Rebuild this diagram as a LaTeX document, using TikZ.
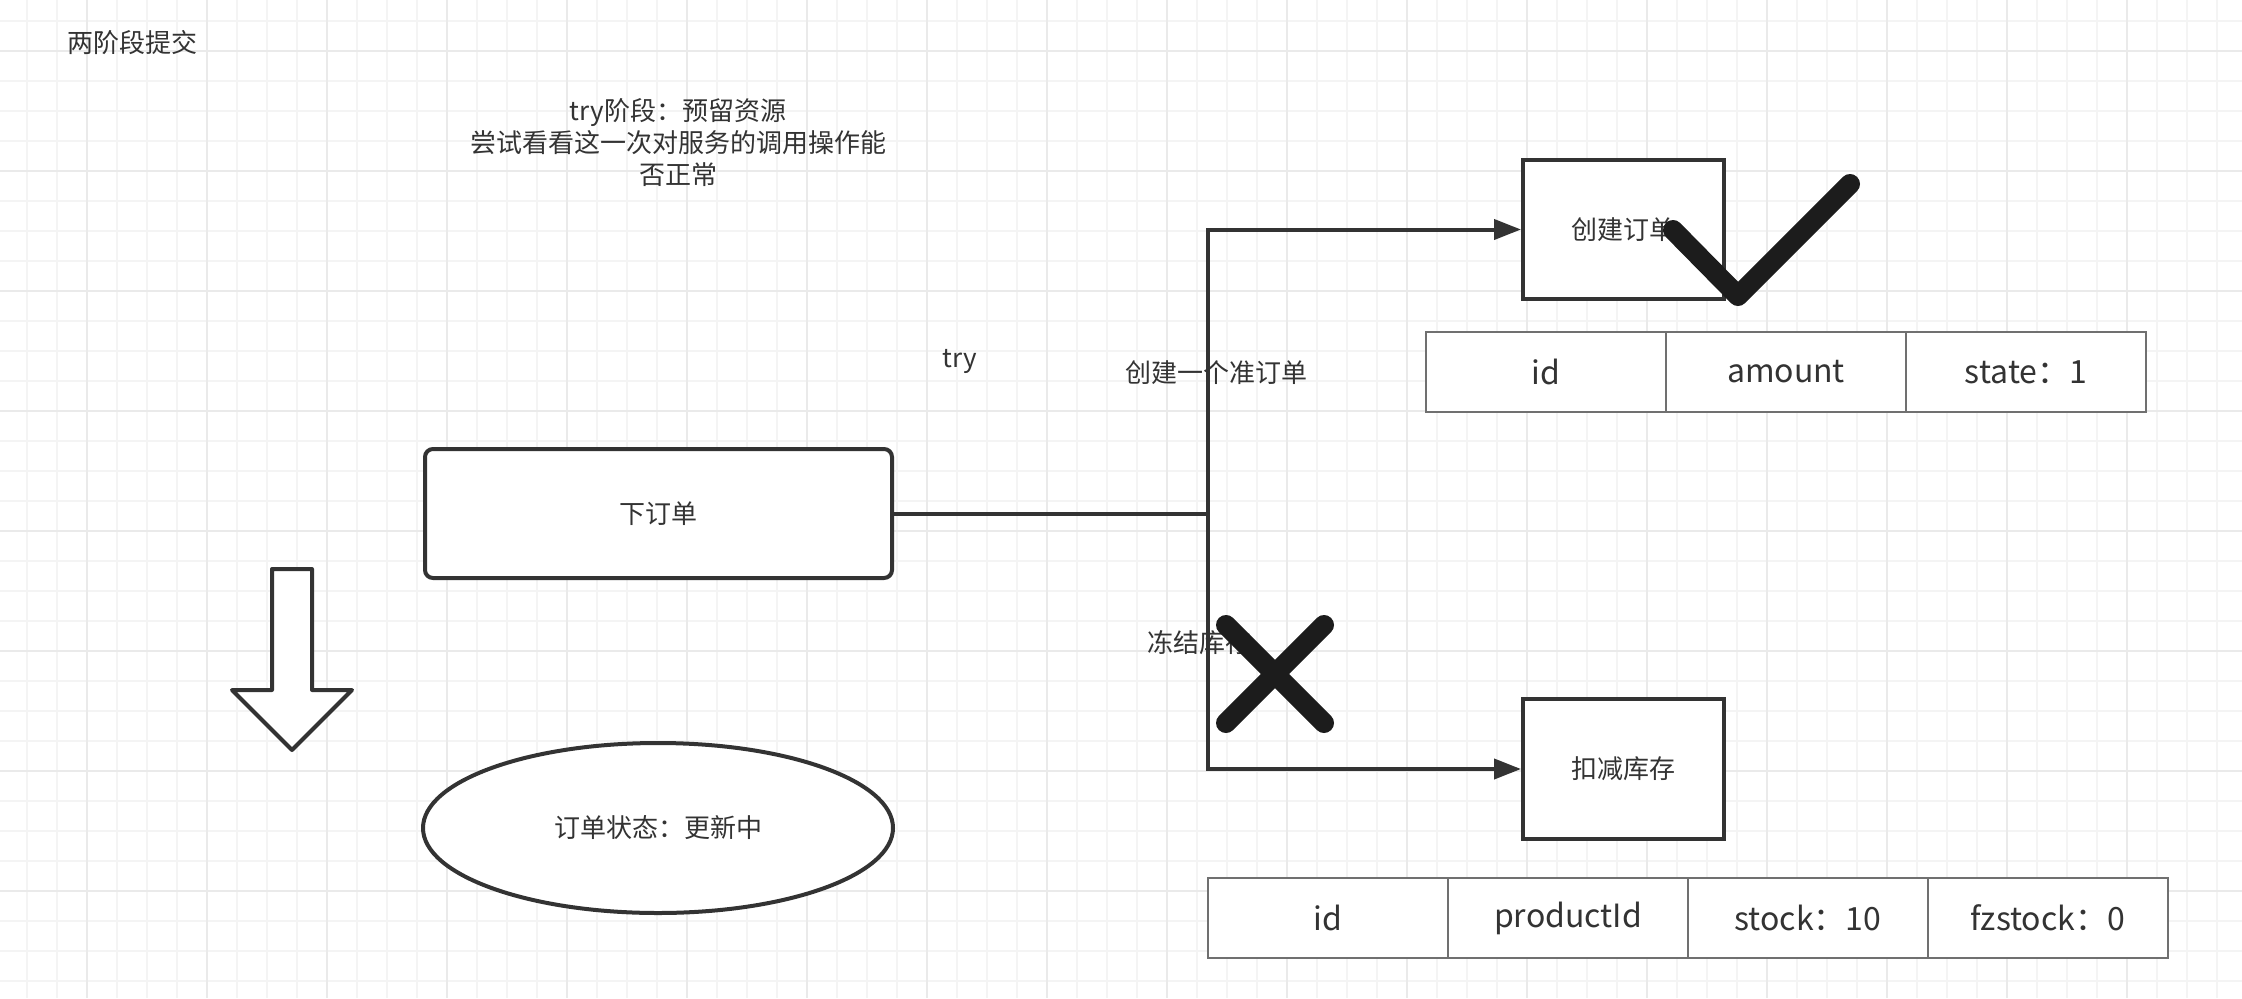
\documentclass[tikz,border=0pt]{standalone}
\usepackage{fontspec}
\setmainfont{Noto Sans CJK SC}
\usetikzlibrary{arrows.meta,shapes.geometric}
\definecolor{ink}{HTML}{333333}
\definecolor{mark}{HTML}{1C1C1C}
\definecolor{gminor}{HTML}{F4F4F4}
\definecolor{gmajor}{HTML}{EAEAEA}
\definecolor{tline}{HTML}{707070}
\begin{document}
\begin{tikzpicture}[x=1pt,y=-1pt,
  txt/.style={text=ink,font=\fontsize{26}{32}\selectfont,inner sep=0pt},
  box/.style={draw=ink,line width=4pt,fill=white,text=ink,font=\fontsize{26}{32}\selectfont,inner sep=0pt},
  cell/.style={draw=tline,line width=2pt,fill=white,text=ink,font=\fontsize{32}{36}\selectfont,minimum width=240pt,minimum height=80pt,inner sep=0pt},
  conn/.style={draw=ink,line width=4pt},
  arr/.style={conn,-{Triangle[length=27pt,width=20pt]}},
  bigmark/.style={draw=mark,line width=20pt,line cap=round,line join=round}]
\useasboundingbox (0,0) rectangle (2242,998);
\fill[white] (0,0) rectangle (2242,998);
% grid
\foreach \x in {27,57,...,2242} \draw[gminor,line width=1.8pt] (\x,0) -- (\x,998);
\foreach \y in {21,51,...,998} \draw[gminor,line width=1.8pt] (0,\y) -- (2242,\y);
\foreach \x in {87,207,...,2242} \draw[gmajor,line width=2.5pt] (\x,0) -- (\x,998);
\foreach \y in {51,171,...,998} \draw[gmajor,line width=2.5pt] (0,\y) -- (2242,\y);

% texts
\node[txt] (title) at (132,43) {两阶段提交};
\node[txt,align=center] (desc) at (678,143) {try阶段：预留资源\\尝试看看这一次对服务的调用操作能\\否正常};
\node[txt] (trylbl) at (960,361) {try};

% boxes
\node[box,rounded corners=8pt,minimum width=467pt,minimum height=129pt] (order) at (658.5,513.5) {下订单};
\node[box,minimum width=201pt,minimum height=139pt] (create) at (1623.5,229.5) {创建订单};
\node[box,minimum width=201pt,minimum height=140pt] (deduct) at (1623.5,769) {扣减库存};
\node[box,ellipse,minimum width=470pt,minimum height=170pt] (state) at (658,828) {订单状态：更新中};

% down arrow
\draw[ink,line width=4pt,line join=round,fill=white] (272,569) -- (312,569) -- (312,690) -- (352,690) -- (292,750) -- (232,690) -- (272,690) -- cycle;

% connectors
\coordinate (j) at (1208,513.5);
\draw[conn] (order.east) -- (j);
\draw[arr] (j) |- (create.west);
\draw[arr] (j) |- (deduct.west);

% labels on connector
\node[txt] (l1) at (1216,373) {创建一个准订单};
\node[txt] (l2) at (1199,643) {冻结库存};

% tables
\node[cell] (t1a) at (1546,372) {\raisebox{-2pt}{id}};
\node[cell] (t1b) at (1786,372) {\raisebox{-2pt}{amount}};
\node[cell] (t1c) at (2026,372) {\raisebox{-2pt}{state：1}};
\node[cell] (t2a) at (1328,918) {\raisebox{-2pt}{id}};
\node[cell] (t2b) at (1568,918) {\raisebox{-2pt}{productId}};
\node[cell] (t2c) at (1808,918) {\raisebox{-2pt}{stock：10}};
\node[cell] (t2d) at (2048,918) {\raisebox{-2pt}{fzstock：0}};

% check and cross
\draw[bigmark] (1673,230) -- (1738,296) -- (1850,184);
\draw[bigmark] (1226,625) -- (1324,723);
\draw[bigmark] (1324,625) -- (1226,723);
\end{tikzpicture}
\end{document}
